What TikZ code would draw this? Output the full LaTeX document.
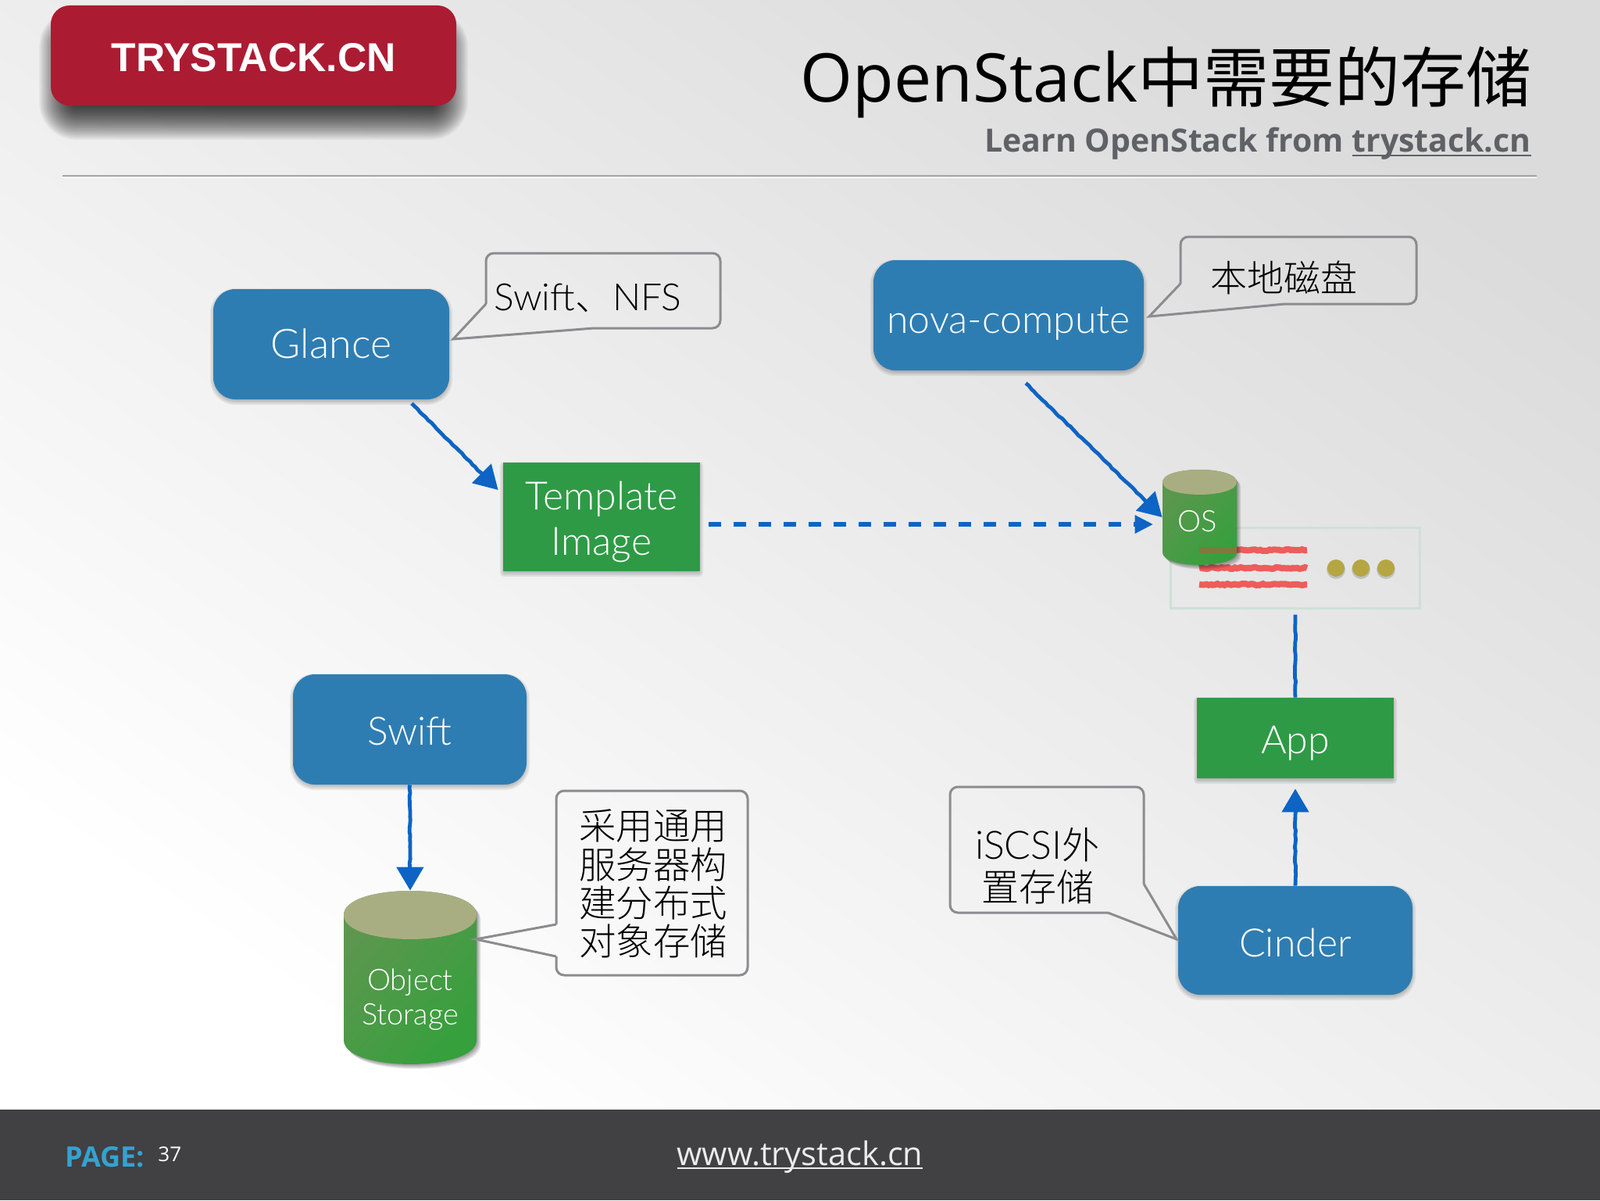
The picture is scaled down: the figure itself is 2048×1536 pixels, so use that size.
\documentclass[tikz,border=0pt]{standalone}
\usepackage{fontspec}
\usetikzlibrary{calc,arrows.meta,decorations.pathmorphing}
\setmainfont{Open Sans}
\newfontfamily\cjk{Noto Sans CJK SC Light}
\newfontfamily\cjkreg{Noto Sans CJK SC}
\newfontfamily\lightf{Lato Light}
\newfontfamily\headf{Open Sans}
\newfontfamily\logof{Liberation Sans}
\newcommand{\myul}[2][-3.2pt]{\setbox0\hbox{#2}\rlap{\rule[#1]{\wd0}{1.2pt}}\box0}
\definecolor{boxblue}{HTML}{2E7DB2}
\definecolor{boxgreen}{HTML}{2F9A46}
\definecolor{arrowblue}{HTML}{0D64C4}
\definecolor{calloutgray}{HTML}{8C8C90}
\definecolor{cyltop}{HTML}{A9AE82}
\definecolor{cylleft}{HTML}{5F9650}
\definecolor{cylright}{HTML}{35A03C}
\definecolor{footbg}{HTML}{414042}
\definecolor{logored}{HTML}{AB1C33}
\definecolor{subgray}{HTML}{5F6166}
\definecolor{pageblue}{HTML}{35A2D0}
\definecolor{panelline}{HTML}{CFE0D6}
\definecolor{dotolive}{HTML}{B5A643}
\definecolor{redline}{HTML}{EE5C5C}
\definecolor{redover}{HTML}{7D7A3C}
\tikzset{
  bluebox/.style={rounded corners=14pt,fill=boxblue,text=white,inner sep=0pt,text depth=0pt,font=\lightf\fontsize{25}{29}\selectfont,align=center},
  greenbox/.style={fill=boxgreen,text=white,inner sep=0pt,text depth=0pt,font=\lightf\fontsize{25}{29.4}\selectfont,align=center},
  boxlabel/.style={text=white,inner sep=0pt,align=center,font=\lightf\fontsize{25}{29.4}\selectfont},
  callout/.style={draw=calloutgray,line width=1.5pt,line join=miter},
  calltext/.style={text=black,inner sep=0pt,align=center,font=\lightf\fontsize{24}{24.5}\selectfont},
  sketchy/.style={decorate,decoration={random steps,segment length=2.5pt,amplitude=.35pt,post length=5pt}},
  flow/.style={draw=arrowblue,line width=2.4pt,sketchy},
  bighead/.style={-{Triangle[length=15pt,width=17pt,fill=arrowblue]}},
  cyltext/.style={text=white,inner sep=0pt,align=center,font=\lightf\fontsize{19}{22}\selectfont},
  redbar/.style={draw=redline,line width=4pt,decorate,decoration={random steps,segment length=1.5pt,amplitude=.5pt}},
}
% layered soft shadow: x1 y1 x2 y2 radius(pt) spread(px) dy(px) layers opacity
\newcommand{\softrect}[9]{%
  \foreach \i in {1,...,#8}{%
    \pgfmathsetmacro\sp{#6*(1-2*(\i-1)/(#8-1))}%
    \pgfmathsetmacro\rr{max(0.5,#5+\sp/2)}%
    \fill[black,opacity=#9,rounded corners=\rr pt] (#1-\sp,#2-\sp+#7) rectangle (#3+\sp,#4+\sp+#7);
  }%
}
\newcommand{\cylpath}[5]{(#1,#3) -- (#1,#4) .. controls (#1,#4+1.33*#5) and (#2,#4+1.33*#5) .. (#2,#4) -- (#2,#3)
    .. controls (#2,#3-1.33*#5) and (#1,#3-1.33*#5) .. (#1,#3) -- cycle}
\newcommand{\cylinderbody}[5]{%
  \foreach \k in {6,...,1}{%
    \begin{scope}[shift={(\k*.9,\k)}]
      \fill[black,opacity=.07] \cylpath{#1}{#2}{#3}{#4}{#5};
    \end{scope}
  }%
  \path[top color=cylleft,bottom color=cylright,shading angle=50] \cylpath{#1}{#2}{#3}{#4}{#5};
  \path[fill=cyltop]
    (#1,#3) .. controls (#1,#3+1.33*#5) and (#2,#3+1.33*#5) .. (#2,#3)
    .. controls (#2,#3-1.33*#5) and (#1,#3-1.33*#5) .. (#1,#3) -- cycle;
}
\begin{document}
\begin{tikzpicture}[x=0.5pt,y=-0.5pt]
\useasboundingbox (0,0) rectangle (2048,1536);
\shade[top color=black!14,bottom color=white,shading angle=-35] (-2,-2) rectangle (2050,1422);
% footer
\fill[footbg] (0,1420) rectangle (2048,1536);
% header
\softrect{74}{16}{575}{135}{12}{24}{20}{36}{.034}
\node[rounded corners=12pt,fill=logored,text=white,minimum width=259.5pt,minimum height=64pt,inner sep=0pt,text height=20pt,text depth=0pt,
  font=\logof\bfseries\fontsize{25.8}{26}\selectfont] (logo) at (324.5,71) {TRYSTACK.CN\hspace{2.6pt}};
\node[anchor=base east,inner sep=0pt,font=\headf\fontsize{43}{43}\selectfont,text=black] (title) at (1961,130) {OpenStack{\cjkreg\fontsize{42}{42}\selectfont 中需要的存储}};
\node[anchor=base east,inner sep=0pt,font=\headf\bfseries\fontsize{20.5}{20.5}\selectfont,text=subgray] (subtitle) at (1960,194) {Learn OpenStack from \myul{trystack.cn}};
\draw[line width=1pt,draw=black!35] (80,225) -- (1967,225);
\draw[line width=.5pt,draw=white] (80,227) -- (1967,227);
% panel (server)
\node[draw=panelline,line width=1.5pt,minimum width=159.5pt,minimum height=51.5pt,inner sep=0pt] (panel) at (1657.5,726.5) {};
\draw[redbar] (1535,704) -- (1673,704);
\draw[redbar] (1535,727) -- (1673,727);
\draw[redbar] (1535,748) -- (1673,748);
\foreach \dx in {1710,1742,1774}{
  \fill[black,opacity=.15] (\dx,729) circle (6pt);
  \fill[dotolive] (\dx,727) circle (5.5pt);
}
% cylinders
\cylinderbody{1488}{1583}{617}{707}{16}
\draw[draw=redover,line width=4pt] (1535,704) -- (1583,704);
\node[cyltext,text height=18pt,text depth=0pt,minimum width=47.5pt,minimum height=61pt] (oscyl) at (1535.5,662) {OS\hspace{2.5pt}};
\cylinderbody{440}{610}{1171}{1331}{31}
\node[minimum width=85pt,minimum height=111pt,inner sep=0pt] (objcyl) at (525,1251) {};
\node[cyltext] (objtext) at (525,1279) {Object\\Storage};
% boxes
\softrect{273}{370}{575}{511}{14}{4}{3}{5}{.07}
\node[bluebox,minimum width=151pt,minimum height=70.5pt,text height=18pt,font=\lightf\fontsize{26}{29}\selectfont] (glance) at (424,440.5) {Glance};
\softrect{644}{592}{896}{731}{.5}{4}{3}{5}{.07}
\node[greenbox,minimum width=126pt,minimum height=69.5pt] (template) at (770,661.5) {};
\node[boxlabel] (templatetext) at (770,668) {Template\\Image};
\softrect{1118}{333}{1464}{474}{14}{4}{3}{5}{.07}
\node[bluebox,minimum width=173pt,minimum height=70.5pt,text height=23pt] (nova) at (1291,403.5) {nova-compute};
\softrect{375}{863}{674}{1004}{14}{4}{3}{5}{.07}
\node[bluebox,minimum width=149.5pt,minimum height=70.5pt,text height=20pt] (swift) at (524.5,933.5) {Swift};
\softrect{1532}{893}{1784}{996}{.5}{4}{3}{5}{.07}
\node[greenbox,minimum width=126pt,minimum height=51.5pt,text height=20pt] (app) at (1658,944.5) {App};
\softrect{1508}{1134}{1808}{1273}{14}{4}{3}{5}{.07}
\node[bluebox,minimum width=150pt,minimum height=69.5pt,text height=21pt] (cinder) at (1658,1203.5) {Cinder};
% callouts
\draw[callout,rounded corners=5pt] (622,389) -- (622,324) -- (922,324) -- (922,420) -- (760,420);
\draw[callout] (622,389) -- (580,434) -- (760,420);
\node[calltext,anchor=base west] (swiftnfs) at (632,397) {Swift{\cjk 、}NFS};
\draw[callout,rounded corners=5pt] (1511,363) -- (1511,303) -- (1813,303) -- (1813,389) -- (1645,389);
\draw[callout] (1511,363) -- (1471,405) -- (1645,389);
\node[calltext,font=\cjk\fontsize{23.5}{24}\selectfont] (localdisk) at (1643,355) {本地磁盘};
\draw[callout,rounded corners=5pt] (712,1183) -- (712,1012) -- (957,1012) -- (957,1248) -- (712,1248) -- (712,1224);
\draw[callout] (712,1183) -- (609,1202) -- (712,1224);
\node[calltext,font=\cjk\fontsize{23.7}{24.6}\selectfont] (objnote) at (836,1131) {采用通用\\服务器构\\建分布式\\对象存储};
\draw[callout,rounded corners=5pt] (1418,1168) -- (1216,1168) -- (1216,1007) -- (1464,1007) -- (1464,1131);
\draw[callout] (1464,1131) -- (1506,1202) -- (1418,1168);
\node[calltext,font=\lightf\fontsize{25}{27}\selectfont] (iscsi) at (1328,1108) {iSCSI{\cjk\fontsize{24}{27}\selectfont 外}\\{\cjk\fontsize{24}{27}\selectfont 置存储}};
% connectors
\draw[flow,bighead] ($(glance.south)+(103,5)$) -- ($(template.west)+(-6,-34.5)$);
\draw[flow,bighead] ($(nova.south)+(22,16)$) -- (oscyl.west);
\draw[draw=arrowblue,line width=3pt,dash pattern=on 8pt off 8pt] ($(template.east)+(11,9.5)$) -- ($(oscyl.west)+(-35,9)$);
\path[fill=arrowblue] ($(oscyl.west)+(-35,-3)$) -- ($(oscyl.west)+(-12,9)$) -- ($(oscyl.west)+(-35,21)$) -- cycle;
\draw[flow] (app.north) -- ($(panel.south)+(.5,7)$);
\draw[flow,bighead] (cinder.north) -- ($(app.south)+(0,13)$);
\draw[flow,bighead] (swift.south) -- (objcyl.north);
% footer text
\node[anchor=base west,inner sep=0pt,text=pageblue,font=\headf\bfseries\fontsize{18}{18}\selectfont] (pagelabel) at (83,1493) {PAGE:};
\node[anchor=base west,inner sep=0pt,text=white,font=\headf\fontsize{13}{13}\selectfont] (pagenum) at (202,1486) {37};
\node[anchor=base,inner sep=0pt,text=black!8,font=\headf\fontsize{20.8}{20.8}\selectfont] (site) at (1024,1491) {\myul[-2.5pt]{www.trystack.cn}};
\end{tikzpicture}
\end{document}
